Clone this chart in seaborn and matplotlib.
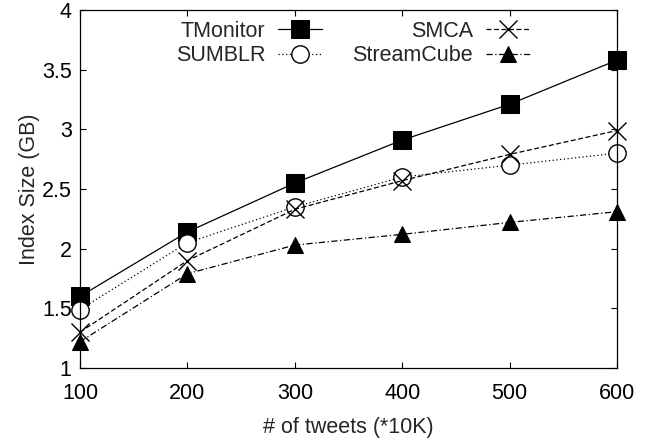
import matplotlib
matplotlib.use("Agg")
import matplotlib.pyplot as plt
import seaborn as sns
import pandas as pd

tweets = [100, 200, 300, 400, 500, 600]
tmonitor = [1.60, 2.14, 2.55, 2.91, 3.21, 3.58]
sumblr = [1.49, 2.05, 2.35, 2.60, 2.70, 2.80]
smca = [1.30, 1.90, 2.33, 2.57, 2.79, 2.99]
streamcube = [1.22, 1.79, 2.03, 2.12, 2.22, 2.31]
y_ticks = [1, 1.5, 2, 2.5, 3, 3.5, 4]
y_tick_labels = ["1", "1.5", "2", "2.5", "3", "3.5", "4"]

FS = 15.5

sns.set_style("ticks")
plt.rcParams["font.family"] = ["Liberation Sans", "DejaVu Sans"]
plt.rcParams["font.size"] = FS

fig = plt.figure(figsize=(6.59, 4.41), dpi=100)
ax = fig.add_axes([80/659, 1-368/441, (617-80)/659, (368-10)/441])

series = [
    ("TMonitor", tmonitor, dict(linestyle="-", marker="s", markersize=12.5,
                                markerfacecolor="black", markeredgecolor="black")),
    ("SUMBLR", sumblr, dict(linestyle=(0, (1, 2)), marker="o", markersize=12.5,
                            markerfacecolor="white", markeredgecolor="black", markeredgewidth=1)),
    ("SMCA", smca, dict(linestyle=(0, (4, 2)), marker="x", markersize=13,
                        markeredgecolor="black", markeredgewidth=1)),
    ("StreamCube", streamcube, dict(linestyle=(0, (5, 2, 1, 2)), marker="^", markersize=11,
                                    markerfacecolor="black", markeredgecolor="black")),
]

for name, vals, kw in series:
    df = pd.DataFrame({"x": tweets, "y": vals})
    sns.lineplot(data=df, x="x", y="y", ax=ax, color="black", linewidth=0.9,
                 label=name, clip_on=False, **kw)

h, l = ax.get_legend_handles_labels()
hd = dict(zip(l, h))
order = ["TMonitor", "SUMBLR", "SMCA", "StreamCube"]
ax.legend([hd[k] for k in order], order, ncol=2, markerfirst=False, frameon=False,
          loc="upper right", bbox_to_anchor=(530/659, 1-21/441),
          bbox_transform=fig.transFigure, borderpad=0, borderaxespad=0,
          handlelength=2.05, handletextpad=0.6, columnspacing=1.4,
          labelspacing=0.15, fontsize=FS)

ax.set_xlim(100, 600)
ax.set_ylim(1, 4)
ax.set_xticks(tweets)
ax.set_xticklabels([str(t) for t in tweets])
ax.set_yticks(y_ticks)
ax.set_yticklabels(y_tick_labels)
ax.tick_params(direction="in", length=4.5, width=0.8, top=True, right=True,
               labelsize=FS, colors="black")
ax.tick_params(axis="x", pad=11)
ax.tick_params(axis="y", pad=6)
for sp in ax.spines.values():
    sp.set_visible(True)
    sp.set_linewidth(0.9)
    sp.set_color("black")
ax.set_xlabel("# of tweets (*10K)", fontsize=FS, labelpad=9)
ax.set_ylabel("Index Size (GB)", fontsize=FS, labelpad=1)

fig.savefig("out.png", dpi=100)
